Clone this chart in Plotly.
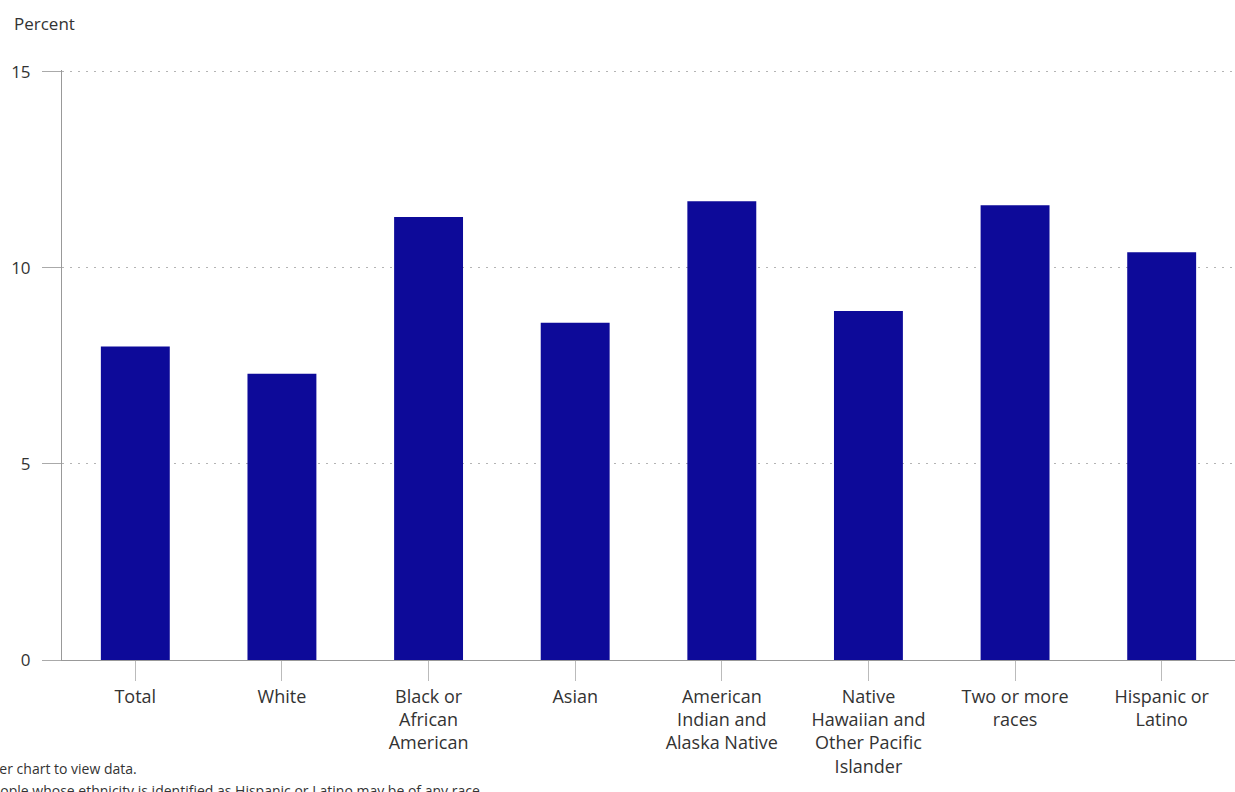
import plotly.graph_objects as go

categories = [
    "Total", "White", "Black or<br>African<br>American", "Asian",
    "American<br>Indian and<br>Alaska Native", "Native<br>Hawaiian and<br>Other Pacific<br>Islander",
    "Two or more<br>races", "Hispanic or<br>Latino",
]
values = [8.0, 7.3, 11.3, 8.6, 11.7, 8.9, 11.6, 10.4]
y_ticks = [0, 5, 10, 15]

W, H = 1235, 792
L, R, T, B = 62, 0, 70, 132
FONT = "Open Sans, Noto Sans, sans-serif"

fig = go.Figure(go.Bar(
    x=categories, y=values,
    marker=dict(color="#0d0a99", line=dict(width=0)),
    hoverinfo="x+y",
))

def px_to_paper_x(px):
    return (px - L) / (W - L - R)

def px_to_paper_y(py):
    return (H - B - py) / (H - T - B)

fig.update_layout(
    width=W, height=H,
    margin=dict(l=L, r=R, t=T, b=B, autoexpand=False),
    paper_bgcolor="white", plot_bgcolor="white",
    bargap=0.53,
    showlegend=False,
    font=dict(family=FONT, size=17, color="#333333"),
    xaxis=dict(
        automargin=False,
        showline=True, linecolor="#999999", linewidth=1,
        ticks="outside", ticklen=20, tickcolor="#bbbbbb", tickwidth=1,
        tickfont=dict(size=18, color="#333333"),
        showgrid=False, tickangle=0,
    ),
    yaxis=dict(
        automargin=False,
        range=[0, 15.05], tickvals=y_ticks,
        showline=True, linecolor="#999999", linewidth=1,
        ticks="outside", ticklen=19, tickcolor="#aaaaaa", tickwidth=1,
        ticklabelstandoff=8,
        tickfont=dict(size=17, color="#333333"),
        showgrid=True, gridcolor="#b4b4b4", griddash="2px,6px", gridwidth=1,
        zeroline=False,
    ),
    annotations=[
        dict(text="Percent", xref="paper", yref="paper",
             x=px_to_paper_x(12), y=px_to_paper_y(24), xanchor="left", yanchor="middle",
             showarrow=False, font=dict(size=17, color="#333333")),
        dict(text="Hover over chart to view data.", xref="paper", yref="paper",
             x=px_to_paper_x(-61), y=px_to_paper_y(768), xanchor="left", yanchor="middle",
             showarrow=False, font=dict(size=14, color="#333333")),
        dict(text="People whose ethnicity is identified as Hispanic or Latino may be of any race.",
             xref="paper", yref="paper",
             x=px_to_paper_x(-18), y=px_to_paper_y(790), xanchor="left", yanchor="middle",
             showarrow=False, font=dict(size=14, color="#333333")),
    ],
)

fig.write_html(
    "out.html",
    config={"displayModeBar": False},
    post_script="document.body.style.margin='0';document.body.style.overflow='hidden';",
)
